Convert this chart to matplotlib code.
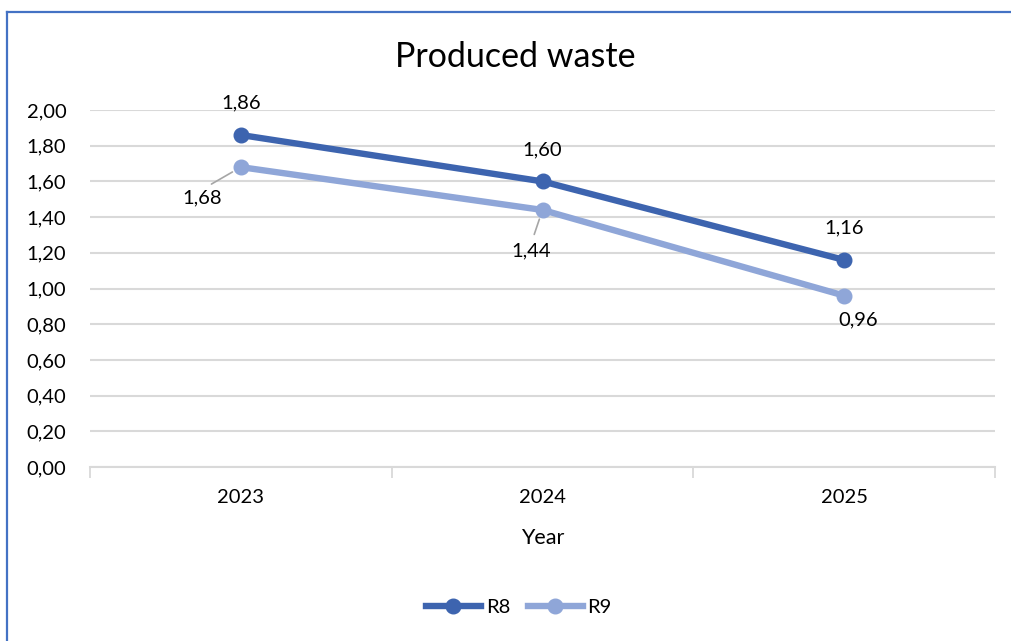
#Line chart of produced waste per year for R8 and R9
import matplotlib.pyplot as plt
from matplotlib.lines import Line2D

years = ['2023', '2024', '2025']
r8 = [1.86, 1.60, 1.16]
r9 = [1.68, 1.44, 0.96]
y_ticks = [0.0, 0.2, 0.4, 0.6, 0.8, 1.0, 1.2, 1.4, 1.6, 1.8, 2.0]

col_r8 = '#3D64AF'
col_r9 = '#8FA6D8'
fs = 14.5

plt.rcParams['font.family'] = ['Lato', 'DejaVu Sans']

fig = plt.figure(figsize=(10.11, 6.41), dpi=100)
ax = fig.add_axes([90/1011, 1-467/641, 905/1011, 357/641])

x = list(range(len(years)))
ax.plot(x, r8, color=col_r8, lw=4.6, marker='o', ms=10.5, label='R8', zorder=4)
ax.plot(x, r9, color=col_r9, lw=4.6, marker='o', ms=10.5, label='R9', zorder=3)

ax.set_xlim(-0.5, len(years) - 0.5)
ax.set_ylim(0, 2.0)
ax.set_yticks(y_ticks)
ax.set_yticklabels([f'{v:.2f}'.replace('.', ',') for v in y_ticks], fontsize=fs)
ax.set_xticks(x)
ax.set_xticklabels(years, fontsize=fs)
ax.tick_params(axis='y', length=0, pad=17)
ax.tick_params(axis='x', length=0, pad=16)
#category boundary ticks on the x axis
ax.set_xticks([-0.5, 0.5, 1.5, 2.5], minor=True)
ax.tick_params(axis='x', which='minor', length=8, width=1.3, color='#D9D9D9', direction='out')

ax.grid(axis='y', color='#D9D9D9', lw=1.5)
ax.set_axisbelow(True)
for s in ['top', 'right', 'left']:
    ax.spines[s].set_visible(False)
ax.spines['bottom'].set_color('#D9D9D9')
ax.spines['bottom'].set_linewidth(1.5)

ax.set_xlabel('Year', fontsize=15.5, labelpad=16)
fig.text(515/1011, 1-57/641, 'Produced waste', fontsize=24.5, ha='center', va='center')

#data labels
lab = lambda v: f'{v:.2f}'.replace('.', ',')
for i, v in enumerate(r8):
    ax.annotate(lab(v), (i, v), xytext=(0, 32), textcoords='offset pixels',
                ha='center', va='center', fontsize=fs)

r9_offsets = [(-39, -31), (-11, -41), (14, -24)]
r9_leader = [True, True, False]
for i, v in enumerate(r9):
    dx, dy = r9_offsets[i]
    props = None
    if r9_leader[i]:
        props = dict(arrowstyle='-', color='#A6A6A6', lw=1.2, relpos=(0.5, 1.0),
                     shrinkA=4, shrinkB=7)
    ax.annotate(lab(v), (i, v), xytext=(dx, dy), textcoords='offset pixels',
                ha='center', va='center', fontsize=fs, arrowprops=props)

fig.legend(loc='center', bbox_to_anchor=(519/1011, 1-607/641), ncol=2, frameon=False,
           fontsize=fs, handlelength=2.7, columnspacing=0.9, handletextpad=0.25)

#chart border (only left and top visible in the crop)
fig.add_artist(Line2D([6.5/1011, 6.5/1011], [0, 1-11.5/641], color='#4472C4', lw=1.6))
fig.add_artist(Line2D([6.5/1011, 1], [1-11.5/641, 1-11.5/641], color='#4472C4', lw=1.6))

plt.savefig('out.png', dpi=100)
